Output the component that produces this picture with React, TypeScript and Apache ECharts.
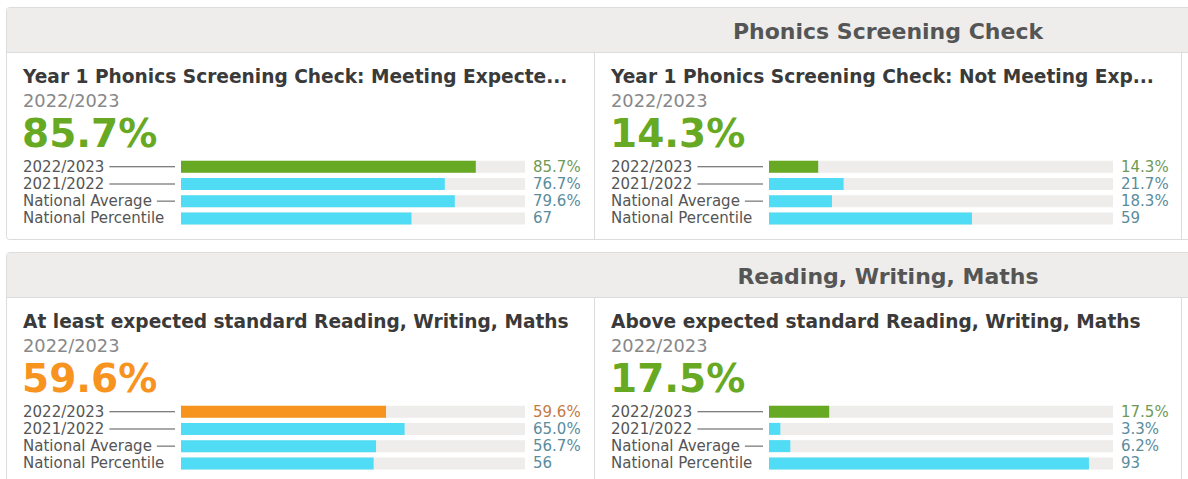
import React, { useEffect, useRef } from "react";
import * as echarts from "echarts";

const sectionTitles = ["Phonics Screening Check", "Reading, Writing, Maths"];
const cardTitles = [
  "Year 1 Phonics Screening Check: Meeting Expecte...",
  "Year 1 Phonics Screening Check: Not Meeting Exp...",
  "At least expected standard Reading, Writing, Maths",
  "Above expected standard Reading, Writing, Maths",
];
const cardPeriod = "2022/2023";
const rowLabels = ["2022/2023", "2021/2022", "National Average", "National Percentile"];
const meetingValues = [85.7, 76.7, 79.6, 67];
const notMeetingValues = [14.3, 21.7, 18.3, 59];
const atLeastValues = [59.6, 65.0, 56.7, 56];
const aboveValues = [17.5, 3.3, 6.2, 93];
const percentRows = [true, true, true, false];

const GREEN = "#68a923";
const ORANGE = "#f7941f";
const CYAN = "#50dcf4";
const cardValues = [meetingValues, notMeetingValues, atLeastValues, aboveValues];
const cardColors = [GREEN, GREEN, ORANGE, GREEN];
const cardValueLabelColors = ["#6f9a55", "#6f9a55", "#c47a45", "#6f9a55"];

const FONT = "'DejaVu Sans', 'Open Sans', sans-serif";
const W = 1188;
const H = 479;
const panelTops = [7, 252];
const headerH = 45;
const cardXs = [6, 594];
const rightEdge = 1181;
const BORDER = "#dcdcdc";
const HEADER_BG = "#eeedeb";
const TRACK = "#eeedeb";
const LABEL_SIZE = 15;

function fmt(v: number, i: number) {
  return percentRows[i] ? v.toFixed(1) + "%" : String(v);
}

export default function App() {
  const ref = useRef<HTMLDivElement>(null);
  useEffect(() => {
    if (!ref.current) return;
    const chart = echarts.init(ref.current, undefined, { renderer: "svg" });

    const canvas = document.createElement("canvas");
    const ctx = canvas.getContext("2d")!;
    ctx.font = `${LABEL_SIZE}px ${FONT}`;
    const labelSpan = 152;
    const gap = 5;
    const rich: any = { t: { color: "#555", fontSize: LABEL_SIZE, fontFamily: FONT } };
    const lineWidths = rowLabels.map((l) => labelSpan - ctx.measureText(l).width - gap);
    lineWidths.forEach((w, i) => {
      rich["l" + i] = { width: Math.max(0, w), height: 1, backgroundColor: "#555" };
    });
    rich.g = { width: gap };

    const grids: any[] = [];
    const xAxes: any[] = [];
    const yAxes: any[] = [];
    const series: any[] = [];
    const graphics: any[] = [];

    panelTops.forEach((top, p) => {
      const bottom = p === 0 ? 239 : H + 20;
      graphics.push({
        type: "rect",
        shape: { x: 6.5, y: top + 0.5, width: 1300, height: bottom - top, r: 3 },
        style: { fill: "#fff", stroke: BORDER, lineWidth: 1 },
        z: 0,
      });
      graphics.push({
        type: "rect",
        shape: { x: 7, y: top + 1, width: 1300, height: headerH - 1 },
        style: { fill: HEADER_BG },
        z: 1,
      });
      graphics.push({
        type: "line",
        shape: { x1: 6, y1: top + headerH + 0.5, x2: W, y2: top + headerH + 0.5 },
        style: { stroke: BORDER, lineWidth: 1 },
        z: 2,
      });
      [594, rightEdge].forEach((x) => {
        graphics.push({
          type: "line",
          shape: { x1: x + 0.5, y1: top + headerH, x2: x + 0.5, y2: bottom },
          style: { stroke: BORDER, lineWidth: 1 },
          z: 2,
        });
      });
      graphics.push({
        type: "text",
        x: 888,
        y: top + 24.5,
        style: {
          text: sectionTitles[p],
          fill: "#555",
          fontSize: 22,
          fontWeight: "bold",
          fontFamily: FONT,
          align: "center",
          verticalAlign: "middle",
        },
        z: 3,
      });
    });

    cardTitles.forEach((title, c) => {
      const p = Math.floor(c / 2);
      const x0 = cardXs[c % 2];
      const top = panelTops[p];
      const tx = x0 + 17;
      const vals = cardValues[c];
      graphics.push({
        type: "text",
        x: tx,
        y: top + 69.5,
        style: { text: title, fill: "#3a3a3a", fontSize: 18.6, fontWeight: "bold", fontFamily: FONT, verticalAlign: "middle" },
        z: 3,
      });
      graphics.push({
        type: "text",
        x: tx,
        y: top + 93,
        style: { text: cardPeriod, fill: "#888", fontSize: 17.8, fontFamily: FONT, verticalAlign: "middle" },
        z: 3,
      });
      graphics.push({
        type: "text",
        x: tx - 1,
        y: top + 126.5,
        style: { text: fmt(vals[0], 0), fill: cardColors[c], fontSize: 39, fontWeight: "bold", fontFamily: FONT, verticalAlign: "middle" },
        z: 3,
      });

      grids.push({ left: x0 + 175, top: top + 151, width: 344, height: 69, containLabel: false });
      xAxes.push({ gridIndex: c, type: "value", min: 0, max: 100, show: false });
      yAxes.push({
        gridIndex: c,
        type: "category",
        inverse: true,
        data: rowLabels,
        axisLine: { show: false },
        axisTick: { show: false },
        axisLabel: {
          interval: 0,
          margin: 158,
          align: "left",
          rich,
          formatter: (v: string, i: number) =>
            lineWidths[i] > 8 ? `{t|${v}}{g|}{l${i}|}` : `{t|${v}}`,
        },
      });
      yAxes.push({
        gridIndex: c,
        type: "category",
        inverse: true,
        position: "right",
        data: vals.map((v, i) => fmt(v, i)),
        axisLine: { show: false },
        axisTick: { show: false },
        axisLabel: {
          interval: 0,
          margin: 8,
          align: "left",
          color: "#5a8c9c",
          fontSize: LABEL_SIZE,
          fontFamily: FONT,
          rich: { h: { color: cardValueLabelColors[c], fontSize: LABEL_SIZE, fontFamily: FONT } },
          formatter: (v: string, i: number) => (i === 0 ? `{h|${v}}` : v),
        },
      });
      series.push({
        type: "bar",
        xAxisIndex: c,
        yAxisIndex: c * 2,
        barWidth: 12,
        showBackground: true,
        backgroundStyle: { color: TRACK },
        data: vals.map((v, i) => ({ value: v, itemStyle: { color: i === 0 ? cardColors[c] : CYAN } })),
        z: 5,
      });
    });

    chart.setOption({
      animation: false,
      grid: grids,
      xAxis: xAxes,
      yAxis: yAxes,
      series,
      graphic: graphics,
    });
    return () => chart.dispose();
  }, []);
  return (
    <div
      ref={ref}
      style={{ position: "fixed", left: 0, top: 0, width: W, height: H, background: "#fff" }}
    />
  );
}
